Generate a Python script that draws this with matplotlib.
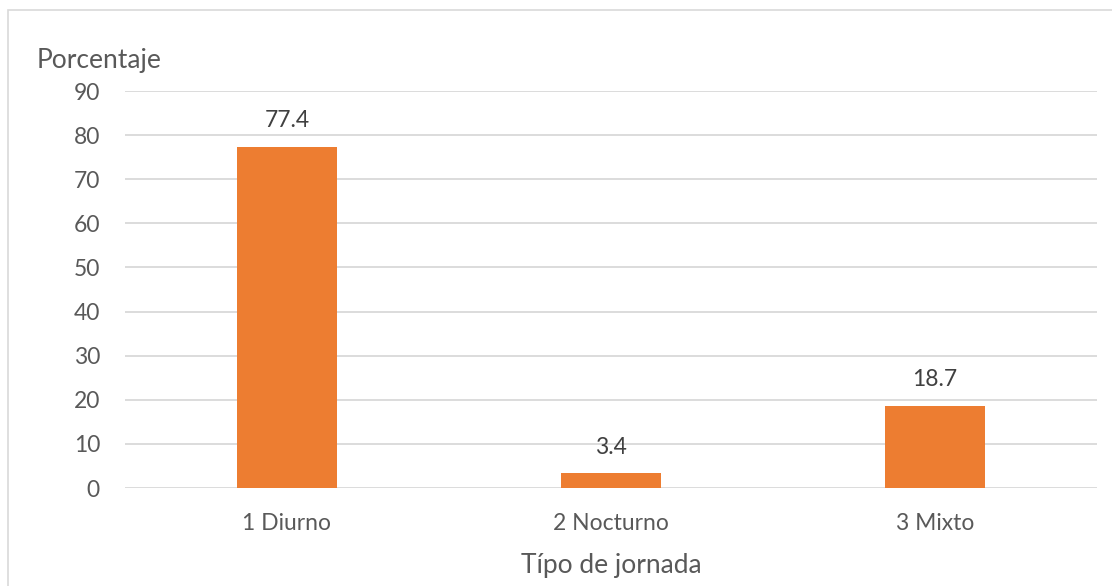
import matplotlib
matplotlib.use('Agg')
import matplotlib.pyplot as plt
from matplotlib.patches import Rectangle

categories = ['1 Diurno', '2 Nocturno', '3 Mixto']
values = [77.4, 3.4, 18.7]
yticks = [0, 10, 20, 30, 40, 50, 60, 70, 80, 90]

text_color = '#595959'
bar_color = '#ED7D31'
grid_color = '#D9D9D9'

plt.rcParams['font.family'] = ['Lato', 'DejaVu Sans']

fig = plt.figure(figsize=(11.12, 5.86), dpi=100)
ax = fig.add_axes([0.1124, 0.1672, 0.8741, 0.6775])

x = list(range(len(categories)))
bars = ax.bar(x, values, width=0.31, color=bar_color, zorder=3)
for b, v in zip(bars, values):
    ax.annotate(f'{v:.1f}', (b.get_x() + b.get_width() / 2, v),
                xytext=(0, 11), textcoords='offset points',
                ha='center', va='bottom', fontsize=16.5, color='#404040')

ax.set_xlim(-0.5, len(categories) - 0.5)
ax.set_ylim(0, 90)
ax.set_yticks(yticks)
ax.set_xticks(x)
ax.set_xticklabels(categories)
ax.tick_params(axis='both', length=0, labelsize=16.5, colors=text_color)
ax.tick_params(axis='y', pad=18)
ax.tick_params(axis='x', pad=18)
ax.yaxis.grid(True, color=grid_color, linewidth=1.3, zorder=0)
for s in ax.spines.values():
    s.set_visible(False)

ax.set_xlabel('Típo de jornada', fontsize=19, color=text_color, labelpad=14)
fig.text(0.033, 0.876, 'Porcentaje', fontsize=19, color=text_color,
         ha='left', va='bottom')

# outer chart border (left and top only visible in frame)
fig.patches.append(Rectangle((0.0072, -0.1), 1.2, 1.083, transform=fig.transFigure,
                             fill=False, edgecolor=grid_color, linewidth=1.2))

fig.savefig('out.png', dpi=100)
